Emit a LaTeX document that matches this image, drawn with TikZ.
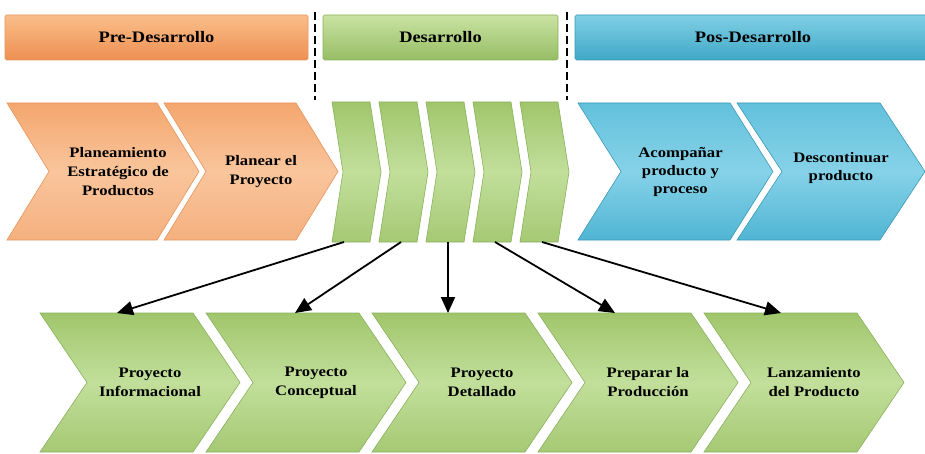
\documentclass[tikz,border=0pt]{standalone}
\usepackage{fontspec}
\setmainfont{Liberation Serif}
\newfontfamily\chevfont{Liberation Serif}[FakeStretch=1.15]
\usetikzlibrary{arrows.meta}

\definecolor{naranjaT}{RGB}{244,166,110}
\definecolor{naranjaM}{RGB}{249,197,156}
\definecolor{naranjaB}{RGB}{245,176,126}
\definecolor{naranjaL}{RGB}{230,148,92}
\definecolor{verdeT}{RGB}{160,198,108}
\definecolor{verdeM}{RGB}{194,223,155}
\definecolor{verdeB}{RGB}{165,201,116}
\definecolor{verdeL}{RGB}{138,176,92}
\definecolor{azulT}{RGB}{98,193,220}
\definecolor{azulM}{RGB}{134,210,232}
\definecolor{azulB}{RGB}{80,181,211}
\definecolor{azulL}{RGB}{58,152,182}
\definecolor{cabNaranjaT}{RGB}{250,190,138}
\definecolor{cabNaranjaB}{RGB}{238,144,82}
\definecolor{cabVerdeT}{RGB}{202,226,162}
\definecolor{cabVerdeB}{RGB}{150,190,100}
\definecolor{cabAzulT}{RGB}{128,207,229}
\definecolor{cabAzulB}{RGB}{64,168,199}

% chevron: style, name, left x, top width, depth, top y, bottom y
\newcommand{\chevron}[7]{%
  \path[#1] (#3,#6) -- ++(#4,0) -- ++(#5,{((#7)-(#6))/2}) -- ++(-#5,{((#7)-(#6))/2})
    -- ++(-#4,0) -- ++(#5,{((#6)-(#7))/2}) -- cycle;
  \coordinate (#2n) at ({#3+77},#6);
  \coordinate (#2s) at ({#3+#4/2+3},#7);
  \coordinate (#2c) at ({#3+(#4+#5)/2+10},{((#6)+(#7))/2});
}

\begin{document}
\begin{tikzpicture}[x=1pt,y=1pt]
	\tikzstyle{every node}+=[inner sep=0pt, align=center]
	\tikzstyle{etiqueta}=[font=\chevfont\bfseries\fontsize{14.5}{19}\selectfont]
	\tikzstyle{cabecera}=[font=\chevfont\bfseries\fontsize{16}{18}\selectfont, rounded corners=1.5pt, line width=0.6pt, minimum height=45]
	\tikzstyle{chevnaranja}=[top color=naranjaT, bottom color=naranjaB, middle color=naranjaM, draw=naranjaL, line width=0.6pt]
	\tikzstyle{chevverde}=[top color=verdeT, bottom color=verdeB, middle color=verdeM, draw=verdeL, line width=0.6pt]
	\tikzstyle{chevazul}=[top color=azulT, bottom color=azulB, middle color=azulM, draw=azulL, line width=0.6pt]
	\tikzstyle{flecha}=[-{Triangle[length=16pt,width=14pt]}, line width=1.8pt, black]
	\tikzstyle{divisoria}=[black, line width=1.6pt, dash pattern=on 8pt off 4pt]
	\useasboundingbox (0,0) rectangle (925,-454);

	% fases
	\node[cabecera, top color=cabNaranjaT, bottom color=cabNaranjaB, draw=naranjaL, minimum width=303] (pre) at (156.5,-37.5) {Pre-Desarrollo};
	\node[cabecera, top color=cabVerdeT, bottom color=cabVerdeB, draw=verdeL, minimum width=235] (des) at (440.5,-37.5) {Desarrollo};
	\node[cabecera, top color=cabAzulT, bottom color=cabAzulB, draw=azulL, minimum width=356] (pos) at (753,-37.5) {Pos-Desarrollo};
	\draw[divisoria] (315,-12) -- (315,-100);
	\draw[divisoria] (567,-12) -- (567,-100);

	% fila superior
	\chevron{chevnaranja}{o1}{7}{150}{42}{-103}{-240}
	\chevron{chevnaranja}{o2}{164}{132}{42}{-103}{-240}
	\foreach \i/\x in {1/332,2/379,3/426,4/473,5/520}
		\chevron{chevverde}{g\i}{\x}{38}{11}{-102}{-242};
	\chevron{chevazul}{a1}{578}{152}{43}{-103}{-240}
	\chevron{chevazul}{a2}{737}{143}{45}{-103}{-240}
	\node[etiqueta] (plan) at ([xshift=5pt]o1c) {Planeamiento\\Estratégico de\\Productos};
	\node[etiqueta] (proy) at (o2c) {Planear el\\Proyecto};
	\node[etiqueta, font=\chevfont\bfseries\fontsize{14.5}{18}\selectfont] (acomp) at ([xshift=-5pt]a1c) {Acompañar\\producto y\\proceso};
	\node[etiqueta, font=\chevfont\bfseries\fontsize{14.5}{18}\selectfont] (desc) at ([yshift=3pt]a2c) {Descontinuar\\producto};

	% fila inferior
	\chevron{chevverde}{b1}{40}{153}{47}{-313}{-452}
	\chevron{chevverde}{b2}{206}{153}{47}{-313}{-452}
	\chevron{chevverde}{b3}{372}{153}{47}{-313}{-452}
	\chevron{chevverde}{b4}{538}{153}{47}{-313}{-452}
	\chevron{chevverde}{b5}{704}{153}{47}{-313}{-452}
	\node[etiqueta] (info) at (b1c) {Proyecto\\Informacional};
	\node[etiqueta] (conc) at (b2c) {Proyecto\\Conceptual};
	\node[etiqueta] (deta) at (b3c) {Proyecto\\Detallado};
	\node[etiqueta] (prep) at (b4c) {Preparar la\\Producción};
	\node[etiqueta] (lanz) at (b5c) {Lanzamiento\\del Producto};

	\draw[flecha] ([xshift=-10pt]g1s) -- (b1n);
	\draw[flecha] (g2s) -- ([xshift=12pt]b2n);
	\draw[flecha] (g3s) -- ([xshift=-1pt]b3n);
	\draw[flecha] (g4s) -- (b4n);
	\draw[flecha] (g5s) -- (b5n);
\end{tikzpicture}
\end{document}
